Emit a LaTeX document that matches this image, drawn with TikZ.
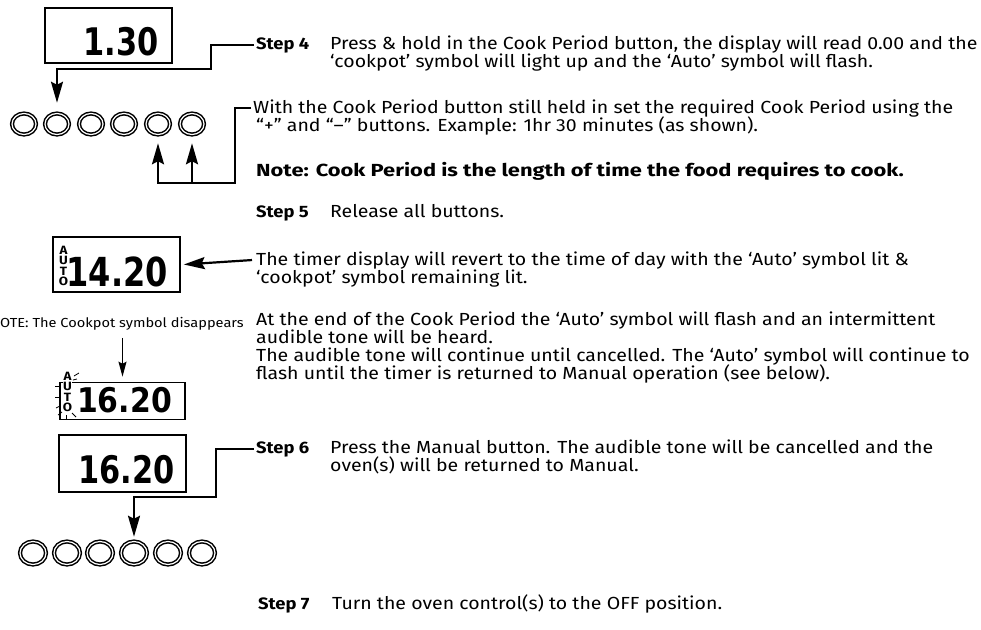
\documentclass[tikz,border=0pt]{standalone}
\usepackage{fontspec}
\setmainfont{Fira Sans}[FakeStretch=1.115]
\newfontfamily\notefont{Fira Sans Bold}[FakeStretch=1.25]
\newfontfamily\lcdfont{DejaVu Sans Bold}[FakeStretch=0.8]
\newfontfamily\lcdfontB{DejaVu Sans Bold}[FakeStretch=0.88]
\usetikzlibrary{arrows.meta,shapes.geometric}
\begin{document}
\begin{tikzpicture}[x=1pt,y=-1pt,
  txt/.style={anchor=base west,inner sep=0pt,font=\fontsize{17.5}{18}\selectfont},
  steplab/.style={txt,font=\fontsize{16.5}{18}\selectfont\bfseries},
  notetxt/.style={txt,font=\fontsize{17.5}{18}\notefont},
  small/.style={anchor=base west,inner sep=0pt,font=\fontsize{13.1}{13.1}\selectfont},
  lcdbox/.style={draw,line width=1.6pt,inner sep=0pt},
  digits/.style={anchor=base east,inner sep=0pt,font=\fontsize{38}{38}\lcdfont},
  autotxt/.style={anchor=north,inner sep=0pt,align=center,font=\fontsize{12}{10.3}\selectfont\bfseries},
  btn/.style={ellipse,draw,line width=1.5pt,double=white,double distance=1.2pt,inner sep=0pt},
  btnA/.style={btn,minimum width=24pt,minimum height=21pt},
  btnB/.style={btn,minimum width=26pt,minimum height=23pt},
  conn/.style={line width=2.2pt,-{Stealth[length=21pt,width=12pt,inset=3pt]}},
  thinconn/.style={line width=1.4pt,-{Stealth[length=15pt,width=8pt,inset=2pt]}},
  ray/.style={line width=0.8pt}]
\useasboundingbox (0,0) rectangle (981,629);

% ---- displays ----
\node[lcdbox,minimum width=127pt,minimum height=55pt] (d1) at (108.5,35.5) {};
\node[digits] (d1t) at (159,55) {1.30};

\node[lcdbox,minimum width=127pt,minimum height=55pt] (d2) at (116.5,264.5) {};
\node[digits,font=\fontsize{40}{40}\lcdfont] (d2t) at (168,286) {14.20};
\node[autotxt] (d2a) at (63.5,246) {A\\U\\T\\O};

\node[lcdbox,minimum width=125pt,minimum height=37pt] (d3) at (122.5,401) {};
\node[digits,font=\fontsize{34}{34}\lcdfontB] (d3t) at (172,412) {16.20};
\node[autotxt,fill=white] (d3a) at (67.5,372) {A\\U\\T\\O};

\node[lcdbox,minimum width=127pt,minimum height=57pt] (d4) at (122.5,463.5) {};
\node[digits] (d4t) at (175,483) {16.20};

% flashing rays round AUTO
\draw[ray] (74,376) -- (79,373);
\draw[ray] (73,380) -- (77,379);
\draw[ray] (55,386) -- (60,386);
\draw[ray] (55,397) -- (60,397);
\draw[ray] (56,408) -- (60,406);
\draw[ray] (58,415) -- (62,412);
\draw[ray] (66,415) -- (66,420);
\draw[ray] (72,413) -- (76,417);

% ---- buttons ----
\foreach \i/\x in {1/24,2/57,3/91,4/124,5/158,6/192}
  \node[btnA] (b\i) at (\x,124) {};
\foreach \i/\x in {1/33,2/67,3/100,4/134,5/168,6/202}
  \node[btnB] (c\i) at (\x,553) {};

% ---- texts ----
\node[steplab] (s4lab) at (256,49) {Step 4};
\node[txt] (s4a) at (330,49) {Press \& hold in the Cook Period button, the display will read 0.00 and the};
\node[txt] (s4b) at (330,67) {‘cookpot’ symbol will light up and the ‘Auto’ symbol will flash.};

\node[txt] (w1) at (253,113) {With the Cook Period button still held in set the required Cook Period using the};
\node[txt] (w2) at (256,131) {“+” and “–” buttons. Example: 1hr 30 minutes (as shown).};

\node[notetxt] (note) at (256,176) {Note: Cook Period is the length of time the food requires to cook.};

\node[steplab] (s5lab) at (256,217) {Step 5};
\node[txt] (s5a) at (330,217) {Release all buttons.};

\node[txt] (t1) at (256,265) {The timer display will revert to the time of day with the ‘Auto’ symbol lit \&};
\node[txt] (t2) at (256,283) {‘cookpot’ symbol remaining lit.};

\node[small] (ote) at (0,327) {OTE: The Cookpot symbol disappears};

\node[txt] (e1) at (256,325) {At the end of the Cook Period the ‘Auto’ symbol will flash and an intermittent};
\node[txt] (e2) at (256,343) {audible tone will be heard.};
\node[txt] (e3) at (256,361) {The audible tone will continue until cancelled. The ‘Auto’ symbol will continue to};
\node[txt] (e4) at (256,379) {flash until the timer is returned to Manual operation (see below).};

\node[steplab] (s6lab) at (256,453) {Step 6};
\node[txt] (s6a) at (330,453) {Press the Manual button. The audible tone will be cancelled and the};
\node[txt] (s6b) at (330,471) {oven(s) will be returned to Manual.};

\node[steplab] (s7lab) at (258,609) {Step 7};
\node[txt] (s7a) at (332,609) {Turn the oven control(s) to the OFF position.};

% ---- connectors ----
\draw[conn] ([xshift=-2pt]s4lab.west) -| (211,69) -| ([yshift=10pt]b2.north);
\draw[conn] ([xshift=-2pt]w1.west) -| (235,183) -| ([yshift=-8pt]b5.south);
\draw[conn] (b6.south |- 0,183) -- ([yshift=-8pt]b6.south);
\draw[conn] ([xshift=-4pt]t1.west) -- ([xshift=3pt]d2.east);
\draw[thinconn] ([yshift=-8pt]d3.north |- ote.south) -- ([yshift=5pt]d3.north);
\draw[conn] ([xshift=-2pt]s6lab.west) -| (216,497) -| ([yshift=4pt]c4.north);
\end{tikzpicture}
\end{document}
